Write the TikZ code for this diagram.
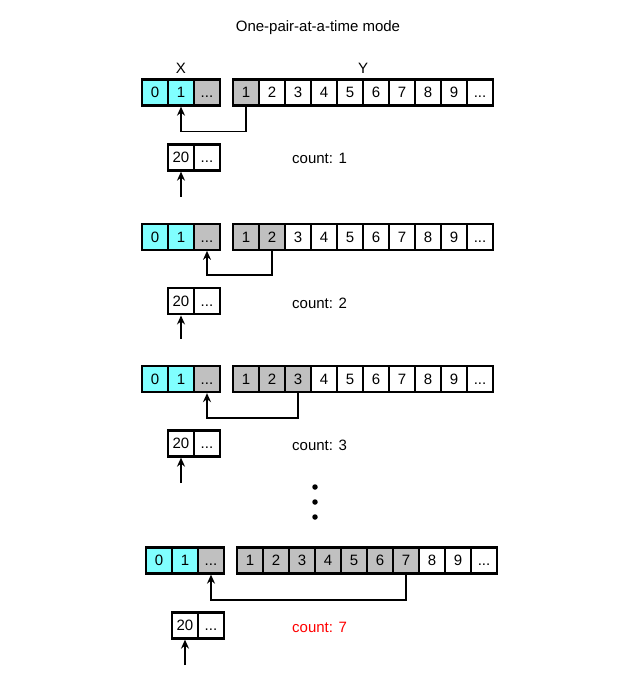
\documentclass[tikz,border=0pt]{standalone}
\usepackage{fontspec}
\setmainfont{Liberation Sans}
\usetikzlibrary{arrows.meta}
\definecolor{cyanc}{HTML}{80FFFF}
\definecolor{grayc}{HTML}{C0C0C0}
\begin{document}
\begin{tikzpicture}[x=1pt,y=-1pt,
 cell/.style={draw, line width=2.3pt, minimum width=26pt, minimum height=26pt, inner sep=0pt, text height=10.7pt, text depth=0pt, font=\fontsize{15}{18}\selectfont},
 cyc/.style={cell, fill=cyanc},
 grc/.style={cell, fill=grayc},
 whc/.style={cell, fill=white},
 arr/.style={line width=1.4pt, -{Stealth[length=9pt,width=8pt,inset=3pt]}},
 lbl/.style={font=\fontsize{15}{18}\selectfont, inner sep=0pt},
 dotn/.style={circle, fill=black, inner sep=0pt, minimum size=5.5pt}]
\useasboundingbox (0,0) rectangle (640,681);
\node[lbl] (title) at (318,28) {One-pair-at-a-time mode};
\node[lbl] (xlab) at (181,68) {X};
\node[lbl] (ylab) at (363,68) {Y};
\foreach \g/\xl/\yl/\cy/\ng/\t/\my/\py/\pxl/\sy/\ty/\col in {
  1/142/233/92.5/1/1/131.7/157.5/168/196.7/158/black,
  2/142/233/236.7/2/2/275/301.3/168/338.5/303/black,
  3/142/233/379/3/2/418/443.5/168/483/445/black,
  4/146/237/560.5/7/2/600/625.5/172/665/627/red}{
  % X array
  \node[cyc] (g\g-x0) at ({\xl+13},\cy) {0};
  \node[cyc] (g\g-x1) at ({\xl+39},\cy) {1};
  \node[grc] (g\g-x2) at ({\xl+65},\cy) {...};
  % Y array
  \foreach \i in {1,...,\ng}{
    \node[grc] (g\g-y\i) at ({\yl+13+26*(\i-1)},\cy) {\i};
  }
  \pgfmathtruncatemacro\nx{\ng+1}
  \foreach \i in {\nx,...,9}{
    \node[whc] (g\g-y\i) at ({\yl+13+26*(\i-1)},\cy) {\i};
  }
  \node[whc] (g\g-y10) at ({\yl+13+26*9},\cy) {...};
  % pointer array
  \node[whc] (g\g-p1) at ({\pxl+13},\py) {20};
  \node[whc] (g\g-p2) at ({\pxl+39},\py) {...};
  % count
  \node[lbl, anchor=west, text=\col] (g\g-c) at (292,\ty) {count: \ng};
  % connectors
  \coordinate (g\g-m) at (0,\my);
  \coordinate (g\g-s) at ({\pxl+13},\sy);
  \draw[arr] (g\g-y\ng.south) |- (g\g-x\t.south |- g\g-m) -- (g\g-x\t.south);
  \draw[arr] (g\g-s) -- (g\g-p1.south);
}
\node[dotn] (d1) at (315,487) {};
\node[dotn] (d2) at (315,502) {};
\node[dotn] (d3) at (315,517) {};
\end{tikzpicture}
\end{document}
